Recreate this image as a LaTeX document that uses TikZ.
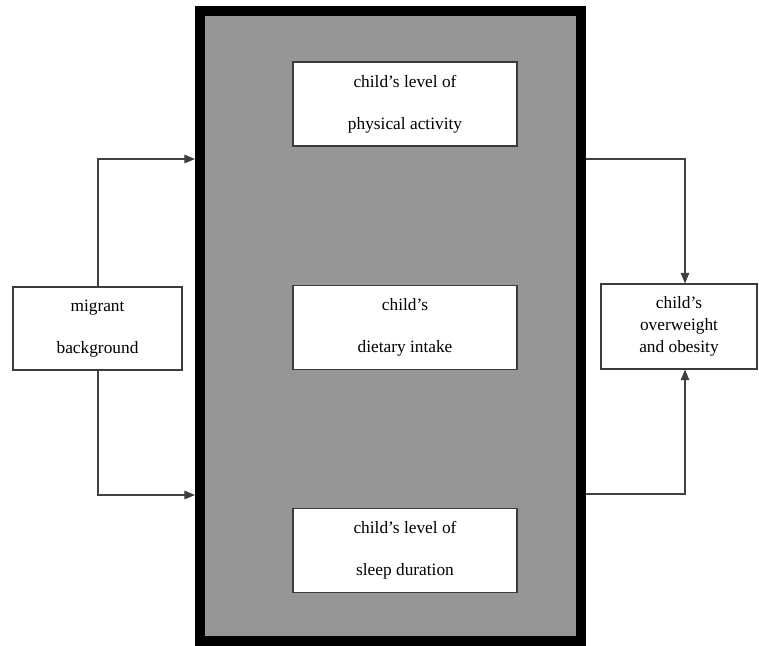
\documentclass[tikz,border=0pt]{standalone}
\usepackage{fontspec}
\setmainfont{Liberation Serif}
\newfontfamily\tnr{Liberation Serif}
\usetikzlibrary{arrows.meta}
\definecolor{fillgray}{RGB}{150,150,150}
\definecolor{boxline}{RGB}{60,60,60}
\definecolor{arrline}{RGB}{64,64,64}
\begin{document}
\begin{tikzpicture}[x=0.75pt,y=-0.75pt,
  box/.style={draw=boxline, line width=0.8pt, fill=white, inner sep=0pt, align=center,
    font=\tnr\fontsize{13}{31.5}\selectfont},
  arr/.style={draw=arrline, line width=0.8pt, -{Triangle[length=8pt,width=6.5pt]}},
  frame/.style={draw=black, line width=7.5pt, fill=fillgray, inner sep=0pt}]
\useasboundingbox (0,0) rectangle (759,645);
% mediating frame
\node[frame, minimum width=285.75pt, minimum height=472.5pt] (frame) at (390.5,326) {};
% inner boxes
\node[box, minimum width=168pt, minimum height=63pt] (pa) at (405,104) {child’s level of\\physical activity};
\node[box, minimum width=168pt, minimum height=63pt] (di) at (405,327.5) {child’s\\dietary intake};
\node[box, minimum width=168pt, minimum height=63pt] (sl) at (405,550.5) {child’s level of\\sleep duration};
% exposure and outcome
\node[box, minimum width=126.75pt, minimum height=62.25pt] (mig) at (97.5,328.5) {migrant\\background};
\node[box, minimum width=117pt, minimum height=63.75pt, font=\tnr\fontsize{13}{16.5}\selectfont] (out) at (679,326.5) {child’s\\overweight\\and obesity};
% bend coordinates
\coordinate (lt) at (98,159);
\coordinate (lb) at (98,495);
\coordinate (rt) at (685,159);
\coordinate (rb) at (685,494);
% connectors
\draw[arr] (mig.north -| lt) -- (lt) -- (lt -| frame.west);
\draw[arr] (mig.south -| lb) -- (lb) -- (lb -| frame.west);
\draw[arr] (rt -| frame.east) -- (rt) -- (rt |- out.north);
\draw[arr] (rb -| frame.east) -- (rb) -- (rb |- out.south);
\end{tikzpicture}
\end{document}
